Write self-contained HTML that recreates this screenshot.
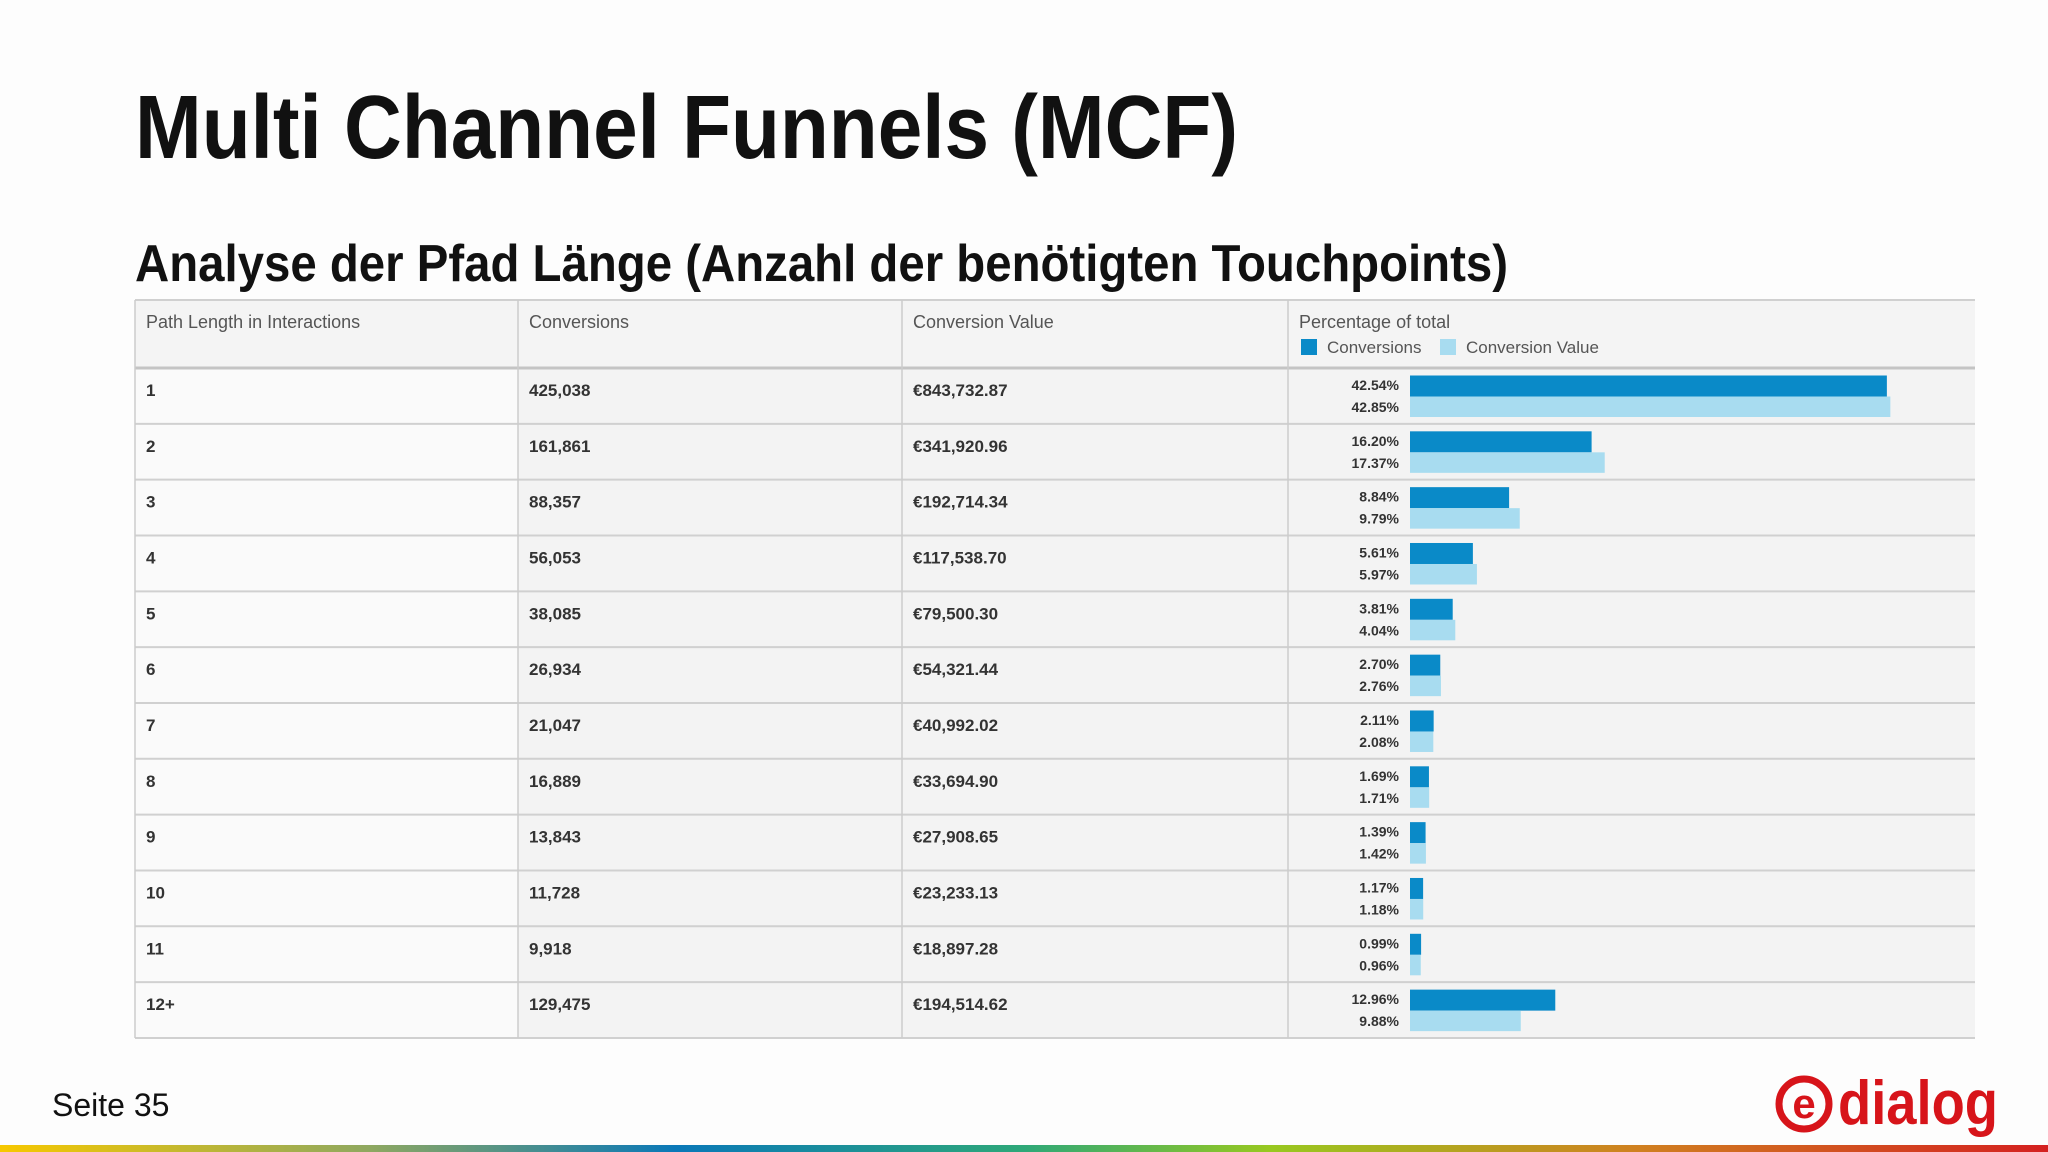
<!DOCTYPE html>
<html><head><meta charset="utf-8"><style>
html,body{margin:0;padding:0;background:#fdfdfd;}
svg{display:block;font-family:"Liberation Sans",sans-serif;}
</style></head><body>
<svg id="s" width="2048" height="1152" viewBox="0 0 2048 1152" xmlns="http://www.w3.org/2000/svg">
<defs>
<linearGradient id="g" x1="0" x2="1" y1="0" y2="0">
<stop offset="0" stop-color="#f7c800"/><stop offset="0.18" stop-color="#8fa860"/><stop offset="0.33" stop-color="#0a78b8"/><stop offset="0.5" stop-color="#2ea878"/><stop offset="0.62" stop-color="#98c820"/><stop offset="0.8" stop-color="#d08020"/><stop offset="1" stop-color="#d42020"/>
</linearGradient>
</defs>
<rect width="2048" height="1152" fill="#fdfdfd"/>
<text x="135" y="158" font-size="90" font-weight="bold" fill="#111" textLength="1103" lengthAdjust="spacingAndGlyphs">Multi Channel Funnels (MCF)</text>
<text x="135" y="281" font-size="52" font-weight="bold" fill="#111" textLength="1373" lengthAdjust="spacingAndGlyphs">Analyse der Pfad Länge (Anzahl der benötigten Touchpoints)</text>
<g id="table"></g>
<text x="52" y="1116" font-size="32" fill="#111">Seite 35</text>
<g>
<circle cx="1804" cy="1104" r="25" fill="none" stroke="#d7141a" stroke-width="7"/>
<text x="1804" y="1118" font-size="42" font-weight="bold" fill="#d7141a" text-anchor="middle">e</text>
<text x="1838" y="1124" font-size="62" font-weight="bold" fill="#d7141a" textLength="160" lengthAdjust="spacingAndGlyphs">dialog</text>
</g>
<rect x="0" y="1145" width="2048" height="7" fill="url(#g)"/>
</svg>
<script>
const rowLabels=["1","2","3","4","5","6","7","8","9","10","11","12+"];
const conversions=["425,038","161,861","88,357","56,053","38,085","26,934","21,047","16,889","13,843","11,728","9,918","129,475"];
const convValues=["€843,732.87","€341,920.96","€192,714.34","€117,538.70","€79,500.30","€54,321.44","€40,992.02","€33,694.90","€27,908.65","€23,233.13","€18,897.28","€194,514.62"];
const pctConv=[42.54,16.20,8.84,5.61,3.81,2.70,2.11,1.69,1.39,1.17,0.99,12.96];
const pctVal=[42.85,17.37,9.79,5.97,4.04,2.76,2.08,1.71,1.42,1.18,0.96,9.88];
const headers=["Path Length in Interactions","Conversions","Conversion Value","Percentage of total"];

const NS="http://www.w3.org/2000/svg";
const T=document.getElementById('table');
const L=135,R=1975,TOP=300,HB=368,RH=55.83;
const cols=[135,518,902,1288];
const barX=1410,pxPer=11.21;
function xs(p){return p*pxPer;}
function mk(tag,attrs,txt){const e=document.createElementNS(NS,tag);for(const k in attrs)e.setAttribute(k,attrs[k]);if(txt!==undefined)e.textContent=txt;T.appendChild(e);return e;}
let e;
e=mk('rect',{x:L,y:TOP,width:R-L,height:HB-TOP,fill:'#f4f4f4'});


headers.forEach((h,i)=>{
  e=mk('text',{x:cols[i]+11,y:TOP+28,'font-size':18,fill:'#555'},h);
  
  
});
e=mk('rect',{x:1301,y:339,width:16,height:16,fill:'#0a8ac8'});


e=mk('text',{x:1327,y:353,'font-size':17,fill:'#555'},'Conversions');


e=mk('rect',{x:1440,y:339,width:16,height:16,fill:'#a8dcf0'});


e=mk('text',{x:1466,y:353,'font-size':17,fill:'#555'},'Conversion Value');


rowLabels.forEach((lab,i)=>{
  const y=HB+i*RH;
  e=mk('rect',{x:L,y:y,width:cols[1]-L,height:RH,fill:'#fafafa'});
  
  
  e=mk('rect',{x:cols[1],y:y,width:R-cols[1],height:RH,fill:'#f3f3f3'});
  
  
  e=mk('text',{x:cols[0]+11,y:y+28,'font-size':17,'font-weight':'bold',fill:'#333'},lab);
  
  
  e=mk('text',{x:cols[1]+11,y:y+28,'font-size':17,'font-weight':'bold',fill:'#333'},conversions[i]);
  
  
  e=mk('text',{x:cols[2]+11,y:y+28,'font-size':17,'font-weight':'bold',fill:'#333'},convValues[i]);
  
  
  e=mk('rect',{x:barX,y:y+7.5,width:xs(pctConv[i]),height:21,fill:'#0a8ac8'});
  
  
  e=mk('rect',{x:barX,y:y+28.5,width:xs(pctVal[i]),height:20.5,fill:'#a8dcf0'});
  
  
  e=mk('text',{x:1399,y:y+22,'font-size':14,'font-weight':'bold',fill:'#333','text-anchor':'end'},pctConv[i].toFixed(2)+'%');
  
  
  e=mk('text',{x:1399,y:y+44,'font-size':14,'font-weight':'bold',fill:'#333','text-anchor':'end'},pctVal[i].toFixed(2)+'%');
  
  
  mk('line',{x1:L,x2:R,y1:y,y2:y,stroke:'#d0d0d0','stroke-width':2});
});
const bottom=HB+rowLabels.length*RH;
mk('line',{x1:L,x2:R,y1:TOP,y2:TOP,stroke:'#d0d0d0','stroke-width':2});
mk('line',{x1:L,x2:R,y1:bottom,y2:bottom,stroke:'#d0d0d0','stroke-width':2});
mk('line',{x1:L,x2:R,y1:HB,y2:HB,stroke:'#c4c4c4','stroke-width':3});
cols.forEach(c=>mk('line',{x1:c,x2:c,y1:TOP,y2:bottom,stroke:'#cccccc','stroke-width':1.5}));
</script>
</body></html>
